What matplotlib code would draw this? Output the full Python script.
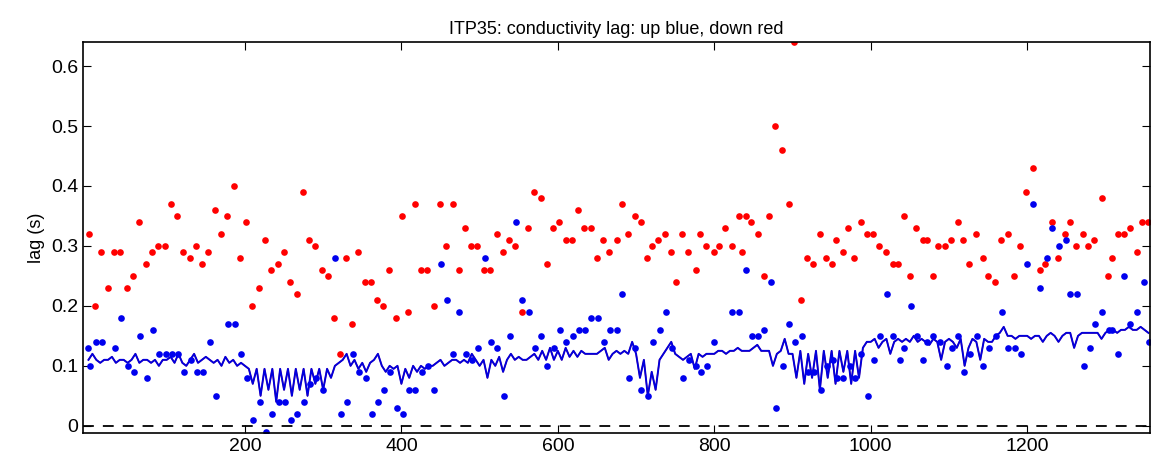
import numpy as np
import matplotlib
matplotlib.use("Agg")
import matplotlib.pyplot as plt

## Data (profile number, lag in s)
red_x = [1, 8, 16, 25, 32, 40, 49, 57, 64, 73, 81, 89, 98, 105, 113, 121, 130, 137, 145, 153,
         162, 169, 177, 186, 194, 201, 209, 218, 226, 233, 242, 250, 258, 266, 274, 282, 290, 298, 306, 314,
         322, 329, 337, 345, 354, 361, 369, 377, 384, 393, 401, 408, 417, 425, 433, 442, 449, 457, 466, 474,
         481, 489, 497, 506, 513, 522, 530, 538, 545, 554, 562, 570, 578, 586, 594, 602, 611, 618, 626, 634,
         643, 650, 658, 666, 675, 682, 690, 698, 706, 714, 721, 728, 737, 745, 751, 759, 767, 776, 782, 790,
         799, 806, 814, 823, 831, 836, 840, 847, 856, 864, 870, 878, 887, 895, 902, 911, 919, 926, 935, 943,
         951, 956, 964, 971, 979, 988, 995, 1003, 1011, 1019, 1028, 1035, 1043, 1050, 1058, 1067, 1072, 1079, 1086, 1095,
         1103, 1111, 1118, 1126, 1135, 1143, 1150, 1159, 1167, 1175, 1183, 1191, 1199, 1208, 1216, 1223, 1232, 1240, 1248, 1255,
         1263, 1271, 1278, 1286, 1295, 1303, 1309, 1316, 1324, 1331, 1340, 1347, 1355]
red_y = [.32, .20, .29, .23, .29, .29, .23, .25, .34, .27, .29, .30, .30, .37, .35, .29, .28, .30, .27, .29,
         .36, .32, .35, .40, .28, .34, .20, .23, .31, .26, .27, .29, .24, .22, .39, .31, .30, .26, .25, .18,
         .12, .28, .17, .29, .24, .24, .21, .20, .26, .18, .35, .19, .37, .26, .26, .20, .37, .30, .37, .26,
         .33, .30, .30, .26, .26, .32, .29, .31, .30, .19, .33, .39, .38, .27, .33, .34, .31, .31, .36, .33,
         .33, .28, .31, .29, .31, .37, .32, .35, .34, .28, .30, .31, .32, .29, .24, .32, .29, .26, .32, .30,
         .29, .30, .33, .30, .35, .29, .35, .34, .32, .25, .35, .50, .46, .37, .64, .21, .28, .27, .32, .28,
         .27, .31, .29, .33, .28, .34, .32, .32, .30, .29, .27, .27, .35, .25, .33, .31, .31, .25, .30, .30,
         .31, .34, .31, .27, .32, .28, .25, .24, .31, .32, .25, .30, .39, .43, .26, .27, .34, .28, .32, .34,
         .30, .32, .30, .31, .38, .25, .28, .32, .32, .33, .29, .34, .34]

blue_x = [0, 2, 9, 17, 34, 41, 50, 58, 66, 75, 82, 90, 99, 107, 115, 122, 131, 139, 146, 155,
          163, 178, 187, 195, 203, 210, 219, 227, 235, 243, 251, 259, 267, 275, 283, 291, 300, 315, 323, 330,
          338, 346, 355, 362, 370, 378, 386, 394, 402, 410, 418, 426, 434, 442, 451, 458, 466, 474, 483, 490,
          498, 507, 515, 522, 531, 539, 547, 554, 563, 571, 578, 586, 595, 603, 611, 620, 627, 635, 643, 651,
          659, 667, 675, 682, 691, 699, 706, 715, 722, 730, 738, 746, 760, 768, 776, 783, 791, 800, 823, 832,
          840, 848, 856, 864, 872, 879, 888, 896, 903, 912, 920, 928, 937, 944, 952, 957, 965, 973, 980, 988,
          997, 1004, 1012, 1021, 1029, 1037, 1043, 1052, 1059, 1067, 1072, 1080, 1088, 1097, 1104, 1112, 1119, 1127, 1136, 1143,
          1151, 1160, 1168, 1176, 1184, 1192, 1200, 1208, 1217, 1225, 1232, 1241, 1249, 1255, 1264, 1272, 1280, 1287, 1296, 1304,
          1309, 1316, 1324, 1332, 1340, 1349, 1356]
blue_y = [.13, .10, .14, .14, .13, .18, .10, .09, .15, .08, .16, .12, .12, .12, .12, .09, .11, .09, .09, .14,
          .05, .17, .17, .12, .08, .01, .04, -.01, .02, .04, .04, .01, .02, .04, .07, .08, .06, .28, .02, .04,
          .12, .09, .08, .02, .04, .06, .09, .03, .02, .06, .06, .09, .10, .06, .27, .21, .12, .19, .12, .11,
          .13, .28, .14, .13, .05, .15, .34, .21, .19, .13, .15, .10, .13, .16, .14, .15, .16, .16, .18, .18,
          .14, .16, .16, .22, .08, .13, .06, .05, .14, .16, .19, .13, .08, .11, .10, .09, .10, .14, .19, .19,
          .26, .15, .15, .16, .24, .03, .10, .17, .14, .15, .09, .09, .06, .10, .11, .08, .08, .10, .08, .12,
          .05, .11, .15, .22, .15, .11, .13, .20, .15, .11, .14, .15, .14, .10, .13, .15, .09, .12, .15, .10,
          .13, .15, .19, .13, .13, .12, .27, .37, .23, .28, .33, .30, .31, .22, .22, .10, .13, .17, .19, .16,
          .16, .12, .25, .17, .19, .24, .14]

# running estimate of lag, every 5 profiles
line_x = list(range(0, 1360, 5))
line_y = [0.11, 0.12, 0.11, 0.105, 0.11, 0.11, 0.115, 0.105, 0.11, 0.11, 0.105, 0.11, 0.12, 0.105, 0.11, 0.11, 0.105, 0.11, 0.10, 0.11,
          0.11, 0.115, 0.105, 0.12, 0.105, 0.10, 0.11, 0.12, 0.105, 0.11, 0.115, 0.11, 0.105, 0.11, 0.10, 0.115, 0.105, 0.11, 0.10, 0.105,
          0.10, 0.095, 0.07, 0.095, 0.05, 0.095, 0.06, 0.095, 0.04, 0.095, 0.06, 0.095, 0.05, 0.095, 0.06, 0.095, 0.05, 0.095, 0.07, 0.095,
          0.06, 0.095, 0.08, 0.10, 0.105, 0.11, 0.12, 0.10, 0.11, 0.095, 0.105, 0.09, 0.105, 0.11, 0.12, 0.10, 0.09, 0.10, 0.095, 0.10,
          0.07, 0.095, 0.08, 0.10, 0.09, 0.10, 0.095, 0.10, 0.10, 0.105, 0.11, 0.10, 0.105, 0.11, 0.11, 0.105, 0.11, 0.105, 0.12, 0.11,
          0.10, 0.11, 0.08, 0.11, 0.10, 0.115, 0.09, 0.11, 0.12, 0.11, 0.115, 0.11, 0.11, 0.115, 0.12, 0.11, 0.125, 0.11, 0.13, 0.11,
          0.125, 0.11, 0.13, 0.115, 0.125, 0.115, 0.125, 0.12, 0.12, 0.12, 0.12, 0.125, 0.13, 0.11, 0.12, 0.125, 0.12, 0.125, 0.12, 0.14,
          0.12, 0.08, 0.11, 0.05, 0.09, 0.06, 0.11, 0.12, 0.13, 0.14, 0.12, 0.115, 0.11, 0.115, 0.12, 0.095, 0.12, 0.115, 0.12, 0.12,
          0.12, 0.125, 0.125, 0.12, 0.125, 0.125, 0.13, 0.125, 0.125, 0.125, 0.13, 0.135, 0.125, 0.125, 0.125, 0.10, 0.12, 0.125, 0.145, 0.12,
          0.12, 0.08, 0.125, 0.07, 0.12, 0.08, 0.125, 0.06, 0.125, 0.08, 0.125, 0.07, 0.125, 0.09, 0.125, 0.07, 0.125, 0.08, 0.13, 0.14,
          0.14, 0.145, 0.13, 0.14, 0.145, 0.12, 0.14, 0.145, 0.14, 0.145, 0.14, 0.15, 0.14, 0.145, 0.14, 0.135, 0.145, 0.14, 0.11, 0.14,
          0.145, 0.14, 0.13, 0.145, 0.10, 0.13, 0.145, 0.14, 0.11, 0.145, 0.14, 0.14, 0.15, 0.155, 0.165, 0.15, 0.15, 0.145, 0.15, 0.15,
          0.15, 0.145, 0.15, 0.15, 0.14, 0.15, 0.155, 0.15, 0.14, 0.15, 0.155, 0.155, 0.13, 0.15, 0.155, 0.155, 0.155, 0.155, 0.155, 0.145,
          0.155, 0.16, 0.16, 0.155, 0.16, 0.16, 0.165, 0.16, 0.16, 0.165, 0.16, 0.155]

plt.rcParams['font.family'] = ['Liberation Sans', 'DejaVu Sans']
fig = plt.figure(figsize=(11.53, 4.71), dpi=100)
ax = fig.add_axes([0.072, 0.0807, 0.9254, 0.830])

ax.plot(line_x, line_y, color="red", lw=1.0)
ax.plot(line_x, line_y, color="#0000dd", lw=1.4)
ax.plot(red_x, red_y, "o", color="red", ms=4.8, mec="none")
ax.plot(blue_x, blue_y, "o", color="#0000ee", ms=4.8, mec="none")
ax.axhline(0, color="black", ls=(0, (6, 5)), lw=1.3)

ax.set_xlim(-7, 1357)
ax.set_ylim(-0.012, 0.64)
ax.set_xticks([200, 400, 600, 800, 1000, 1200])
ax.set_yticks([0, 0.1, 0.2, 0.3, 0.4, 0.5, 0.6])
ax.set_yticklabels(["0", "0.1", "0.2", "0.3", "0.4", "0.5", "0.6"])
ax.tick_params(direction="in", top=True, right=True, labelsize=14, length=6)
for s in ax.spines.values():
    s.set_linewidth(1.2)
ax.set_ylabel("lag (s)", fontsize=13)
ax.set_title("ITP35: conductivity lag: up blue, down red", fontsize=13)

fig.savefig("out.png", dpi=100)
